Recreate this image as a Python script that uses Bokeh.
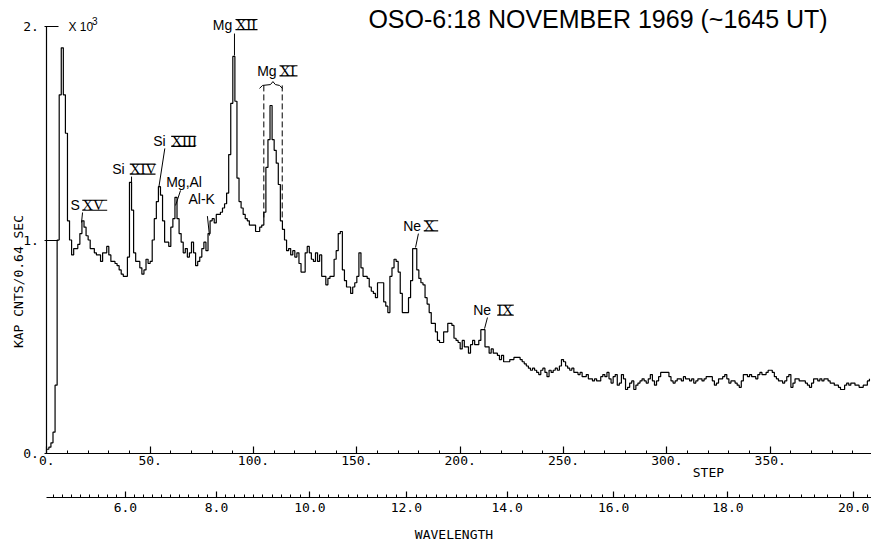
import numpy as np
from bokeh.plotting import figure
from bokeh.models import Range1d, LinearAxis, FixedTicker
from bokeh.core.properties import value
from bokeh.embed import file_html
from bokeh.resources import INLINE

# ---------------- data (counts per 0.64 s, in units of 10^3) ----------------
steps = list(range(399))
counts = [
    0.02, 0.03, 0.05, 0.10, 0.32, 1.00, 1.68, 1.90, 1.68, 1.50,   # 0-9
    1.09, 1.00, 0.93, 0.96, 0.96, 0.98, 1.03, 1.09, 1.06, 1.02,   # 10-19
    1.00, 0.96, 0.96, 0.94, 0.93, 0.93, 0.90, 0.94, 0.94, 0.97,   # 20-29
    0.93, 0.90, 0.90, 0.89, 0.88, 0.86, 0.84, 0.83, 0.83, 0.92,   # 30-39
    1.27, 1.14, 0.94, 0.90, 0.90, 0.87, 0.84, 0.86, 0.91, 0.89,   # 40-49
    0.90, 1.00, 1.10, 1.18, 1.25, 1.21, 1.09, 0.99, 0.99, 0.97,   # 50-59
    1.06, 1.10, 1.20, 1.10, 1.03, 0.99, 0.94, 0.96, 0.92, 0.94,   # 60-69
    0.99, 0.94, 0.88, 0.90, 0.92, 0.96, 0.99, 0.95, 1.03, 1.09,   # 70-79
    1.10, 1.08, 1.12, 1.12, 1.13, 1.15, 1.17, 1.22, 1.40, 1.64,   # 80-89
    1.86, 1.65, 1.29, 1.18, 1.15, 1.12, 1.10, 1.09, 1.07, 1.07,   # 90-99
    1.07, 1.04, 1.04, 1.06, 1.07, 1.13, 1.34, 1.47, 1.63, 1.47,   # 100-109
    1.42, 1.36, 1.26, 1.09, 1.05, 1.00, 0.95, 0.96, 0.93, 0.95,   # 110-119
    0.92, 0.94, 0.89, 0.85, 0.85, 0.94, 0.97, 0.94, 0.91, 0.90,   # 120-129
    0.94, 0.90, 0.93, 0.83, 0.83, 0.79, 0.82, 0.83, 0.83, 0.91,   # 130-139
    0.95, 1.03, 1.04, 0.86, 0.81, 0.78, 0.78, 0.75, 0.78, 0.80,   # 140-149
    0.83, 0.94, 0.87, 0.83, 0.83, 0.82, 0.78, 0.76, 0.75, 0.73,   # 150-159
    0.80, 0.80, 0.80, 0.71, 0.69, 0.66, 0.83, 0.87, 0.91, 0.90,   # 160-169
    0.85, 0.75, 0.66, 0.66, 0.66, 0.73, 0.81, 0.96, 0.96, 0.86,   # 170-179
    0.82, 0.80, 0.79, 0.73, 0.70, 0.66, 0.61, 0.61, 0.57, 0.53,   # 180-189
    0.52, 0.52, 0.57, 0.57, 0.61, 0.61, 0.60, 0.54, 0.53, 0.52,   # 190-199
    0.49, 0.53, 0.50, 0.50, 0.47, 0.51, 0.53, 0.51, 0.51, 0.53,   # 200-209
    0.58, 0.58, 0.50, 0.50, 0.47, 0.49, 0.47, 0.47, 0.46, 0.44,   # 210-219
    0.46, 0.43, 0.43, 0.43, 0.44, 0.44, 0.45, 0.45, 0.45, 0.44,   # 220-229
    0.43, 0.42, 0.41, 0.40, 0.39, 0.40, 0.39, 0.38, 0.37, 0.39,   # 230-239
    0.40, 0.38, 0.36, 0.39, 0.38, 0.39, 0.40, 0.39, 0.41, 0.44,   # 240-249
    0.43, 0.41, 0.40, 0.39, 0.40, 0.38, 0.38, 0.37, 0.38, 0.36,   # 250-259
    0.36, 0.37, 0.35, 0.35, 0.34, 0.35, 0.34, 0.34, 0.36, 0.37,   # 260-269
    0.36, 0.38, 0.35, 0.33, 0.36, 0.37, 0.32, 0.33, 0.37, 0.35,   # 270-279
    0.30, 0.31, 0.33, 0.34, 0.30, 0.32, 0.33, 0.34, 0.35, 0.34,   # 280-289
    0.33, 0.35, 0.37, 0.34, 0.32, 0.34, 0.36, 0.38, 0.38, 0.38,   # 290-299
    0.38, 0.36, 0.34, 0.33, 0.34, 0.35, 0.35, 0.34, 0.36, 0.35,   # 300-309
    0.35, 0.34, 0.35, 0.33, 0.34, 0.35, 0.35, 0.34, 0.35, 0.36,   # 310-319
    0.36, 0.36, 0.34, 0.32, 0.33, 0.35, 0.35, 0.36, 0.37, 0.35,   # 320-329
    0.33, 0.34, 0.34, 0.33, 0.32, 0.31, 0.34, 0.37, 0.37, 0.36,   # 330-339
    0.37, 0.36, 0.36, 0.35, 0.37, 0.38, 0.37, 0.37, 0.38, 0.39,   # 340-349
    0.39, 0.38, 0.36, 0.35, 0.34, 0.34, 0.33, 0.34, 0.36, 0.37,   # 350-359
    0.31, 0.33, 0.35, 0.35, 0.34, 0.34, 0.34, 0.33, 0.32, 0.31,   # 360-369
    0.33, 0.35, 0.35, 0.34, 0.35, 0.34, 0.35, 0.35, 0.34, 0.33,   # 370-379
    0.33, 0.32, 0.32, 0.31, 0.30, 0.30, 0.32, 0.33, 0.32, 0.33,   # 380-389
    0.33, 0.32, 0.32, 0.31, 0.31, 0.32, 0.32, 0.34, 0.35,         # 390-398
]

step_ticks = [0, 50, 100, 150, 200, 250, 300, 350]
step_labels = ["0.", "50.", "100.", "150.", "200.", "250.", "300.", "350."]
y_ticks = [0, 1, 2]
y_labels = ["0.", "1.", "2."]
wl_ticks = [6.0, 8.0, 10.0, 12.0, 14.0, 16.0, 18.0, 20.0]
wl_labels = ["6.0", "8.0", "10.0", "12.0", "14.0", "16.0", "18.0", "20.0"]
wl_minor = [round(4.4 + 0.2 * k, 1) for k in range(80)]

title_text = "OSO-6:18 NOVEMBER 1969 (~1645 UT)"

# line identifications: element, numeral
line_ids = [
    ("Mg", "XII"), ("Mg", "XI"), ("Si", "XIII"), ("Si", "XIV"),
    ("S", "XV"), ("Ne", "X"), ("Ne", "IX"),
]

# ---------------- KAP crystal Bragg relation: wavelength -> step ----------------
KAP_2D = 26.6          # Angstrom
THETA0 = 9.181         # degrees at step 0
DTHETA = 0.10137       # degrees per step


def wl_to_step(wl):
    theta = np.degrees(np.arcsin(np.asarray(wl) / KAP_2D))
    return np.round((theta - THETA0) / DTHETA, 3)


wl_pos = [float(v) for v in wl_to_step(wl_ticks)]
wl_minor_pos = [float(v) for v in wl_to_step(wl_minor) if v <= 399]

# ---------------- figure ----------------
MONO = "DejaVu Sans Mono"
SANS = "Liberation Sans"
SERIF = "Liberation Serif"

p = figure(width=871, height=544,
           x_range=Range1d(-22.40, 399.0), y_range=Range1d(-0.426, 2.1218),
           output_backend="svg", toolbar_location=None,
           x_axis_type=None, y_axis_type=None, min_border=0)
p.outline_line_color = None
p.background_fill_color = "white"
p.border_fill_color = "white"


def style_axis(ax, tick_in, minor_in, standoff):
    ax.major_tick_in = tick_in
    ax.major_tick_out = 0
    ax.minor_tick_in = minor_in
    ax.minor_tick_out = 0
    ax.major_label_standoff = standoff
    ax.major_label_text_font = MONO
    ax.major_label_text_font_size = "13px"
    ax.major_label_text_color = "black"
    ax.axis_line_color = "black"
    ax.axis_line_width = 1.2
    ax.major_tick_line_color = "black"
    ax.minor_tick_line_color = "black"
    ax.major_tick_line_width = 1.2


# step axis
ax_step = LinearAxis(fixed_location=0, bounds=(0, 399),
                     ticker=FixedTicker(ticks=step_ticks,
                                        minor_ticks=list(range(10, 400, 10))),
                     major_label_overrides={t: l for t, l in zip(step_ticks, step_labels)})
style_axis(ax_step, 7, 3, 2)
p.add_layout(ax_step, "below")

# wavelength axis
ax_wl = LinearAxis(fixed_location=-0.206, bounds=(0, 399),
                   ticker=FixedTicker(ticks=wl_pos, minor_ticks=wl_minor_pos),
                   major_label_overrides={t: l for t, l in zip(wl_pos, wl_labels)})
style_axis(ax_wl, 6, 3, 5)
p.add_layout(ax_wl, "below")

# count axis
ax_y = LinearAxis(fixed_location=0, bounds=(0, 2),
                  ticker=FixedTicker(ticks=y_ticks, minor_ticks=[]),
                  major_label_overrides={t: l for t, l in zip(y_ticks, y_labels)})
style_axis(ax_y, 12, 0, 6)
ax_y.major_tick_out = 2
p.add_layout(ax_y, "left")

# spectrum
p.step(x=steps, y=counts, mode="after", line_color="black", line_width=1.2)

# ---------------- annotations ----------------
# element names (sans) and ionisation numerals (serif, with bars)
el_x = [80.31, 101.79, 51.48, 31.64, 11.47, 172.42, 206.29]
num_x = [91.29, 112.58, 60.18, 40.15, 17.13, 182.39, 217.90]
num_r = [101.94, 121.29, 71.94, 52.59, 29.22, 189.36, 225.93]
mid_y = [2.009, 1.7925, 1.462, 1.332, 1.163, 1.0665, 0.6715]
BAR = 0.0235
top_y = [m + BAR for m in mid_y]
bot_y = [m - BAR for m in mid_y]

p.text(x=el_x, y=mid_y, text=[e for e, _ in line_ids],
       text_font=value(SANS), text_font_size="14px", text_color="black",
       text_align="left", text_baseline="middle")
p.text(x=num_x, y=mid_y, text=[n for _, n in line_ids],
       text_font=value(SERIF), text_font_size="15px", text_color="black",
       text_align="left", text_baseline="middle")
p.segment(x0=num_x, y0=top_y, x1=num_r, y1=top_y, line_color="black", line_width=1.1)
p.segment(x0=num_x, y0=bot_y, x1=num_r, y1=bot_y, line_color="black", line_width=1.1)

p.text(x=[57.76, 68.55], y=[1.271, 1.190], text=["Mg,Al", "Al-K"],
       text_font=value(SANS), text_font_size="14px", text_color="black",
       text_align="left", text_baseline="middle")

# pointer lines
px0 = [90.8, 41.0, 57.1, 64.7, 77.7, 17.3, 179.8, 213.2]
py0 = [1.967, 1.297, 1.429, 1.232, 1.112, 1.129, 1.030, 0.637]
px1 = [90.8, 41.0, 54.2, 62.3, 78.7, 16.8, 178.4, 211.8]
py1 = [1.864, 1.232, 1.246, 1.162, 1.021, 1.082, 0.965, 0.585]
p.segment(x0=px0, y0=py0, x1=px1, y1=py1, line_color="black", line_width=1.0)

# Mg XI bracket with dashed limits
p.line(x=[102.9, 104.4, 108.2, 109.4, 110.6, 112.6, 114.0],
       y=[1.710, 1.724, 1.728, 1.742, 1.728, 1.724, 1.710],
       line_color="black", line_width=1.0)
p.segment(x0=[105.0, 113.9], y0=[1.724, 1.724], x1=[105.0, 113.9], y1=[1.091, 1.105],
          line_color="black", line_width=1.0, line_dash="6 3")

# title
p.text(x=[155.6], y=[2.033], text=[title_text],
       text_font=value(SANS), text_font_size="25px", text_color="black",
       text_align="left", text_baseline="middle")

# scale factor "X 10^3"
p.text(x=[10.5], y=[2.000], text=["X 10"], text_font=value(SANS),
       text_font_size="12px", text_color="black",
       text_align="left", text_baseline="middle")
p.text(x=[21.9], y=[2.024], text=["3"], text_font=value(SANS),
       text_font_size="10px", text_color="black",
       text_align="left", text_baseline="middle")

# axis titles
p.text(x=[-13.69], y=[0.824], text=["KAP  CNTS/0.64 SEC"], angle=np.pi / 2,
       text_font=value(MONO), text_font_size="13px", text_color="black",
       text_align="center", text_baseline="middle")
p.text(x=[320.1], y=[-0.089], text=["STEP"], text_font=value(MONO),
       text_font_size="13px", text_color="black",
       text_align="center", text_baseline="middle")
p.text(x=[197.0], y=[-0.379], text=["WAVELENGTH"], text_font=value(MONO),
       text_font_size="13px", text_color="black",
       text_align="center", text_baseline="middle")

open("out.html", "w").write(file_html(p, INLINE))
